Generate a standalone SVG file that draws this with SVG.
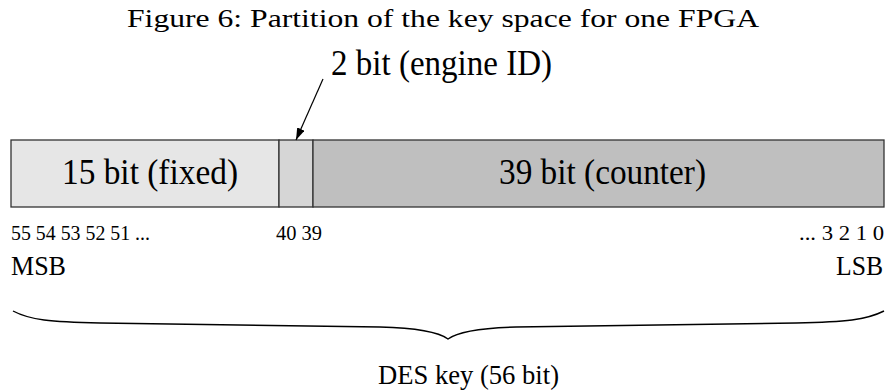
<svg xmlns="http://www.w3.org/2000/svg" width="886" height="392" viewBox="0 0 886 392">
<style>
  text { font-family: "Liberation Serif", "Times New Roman", Times, serif; fill: #000; }
  .seg { stroke: #333; stroke-width: 1.3; }
  .big { font-size: 36px; }
  .num { font-size: 20px; }
  .lbl { font-size: 27px; }
</style>
<defs>
  <marker id="ah" viewBox="0 0 12 8" refX="12" refY="4" markerWidth="12" markerHeight="8" markerUnits="userSpaceOnUse" orient="auto">
    <path d="M0,0 L12,4 L0,8 Z" fill="#000"/>
  </marker>
</defs>
<rect width="886" height="392" fill="#fff"/>
<text id="title" x="127" y="27" font-size="25" textLength="632" lengthAdjust="spacingAndGlyphs">Figure 6: Partition of the key space for one FPGA</text>

<g id="fixed">
  <rect class="seg" x="11" y="140" width="268" height="67" fill="#e6e6e6"/>
  <text class="big" x="62" y="184" textLength="176" lengthAdjust="spacingAndGlyphs">15 bit (fixed)</text>
</g>
<g id="engine">
  <rect class="seg" x="279" y="140" width="34" height="67" fill="#d6d6d6"/>
</g>
<g id="counter">
  <rect class="seg" x="313" y="140" width="571" height="67" fill="#bfbfbf"/>
  <text class="big" x="499" y="184" textLength="207" lengthAdjust="spacingAndGlyphs">39 bit (counter)</text>
</g>
<g id="engine-label">
  <text x="331" y="75" font-size="36" textLength="221" lengthAdjust="spacingAndGlyphs">2 bit (engine ID)</text>
</g>

<g id="connectors">
  <line x1="323" y1="79" x2="296" y2="140" stroke="#000" stroke-width="1.2" marker-end="url(#ah)"/>
</g>

<g id="bits">
  <text class="num" x="11" y="240" textLength="139" lengthAdjust="spacingAndGlyphs">55 54 53 52 51 ...</text>
  <text class="num" x="276" y="240" textLength="46" lengthAdjust="spacingAndGlyphs">40 39</text>
  <text class="num" x="799" y="240" textLength="85" lengthAdjust="spacingAndGlyphs">... 3 2 1 0</text>
  <text class="lbl" x="11" y="275" textLength="55" lengthAdjust="spacingAndGlyphs">MSB</text>
  <text class="lbl" x="836" y="275" textLength="47" lengthAdjust="spacingAndGlyphs">LSB</text>
</g>

<g id="brace">
  <path d="M13,311 C30,320 50,322 100,323 L380,327 C420,328 440,333 448,339 C456,333 476,328 516,327 L796,323 C846,322 866,320 884,311" fill="none" stroke="#000" stroke-width="1.4"/>
  <text class="lbl" x="378" y="384" textLength="181" lengthAdjust="spacingAndGlyphs">DES key (56 bit)</text>
</g>
</svg>
